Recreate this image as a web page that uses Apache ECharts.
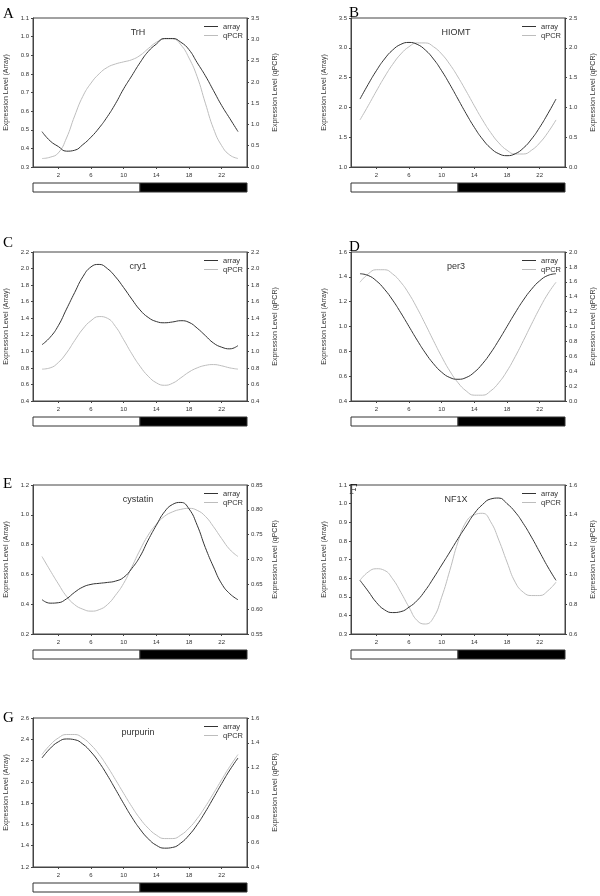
<!DOCTYPE html>
<html><head><meta charset="utf-8">
<script src="https://cdn.jsdelivr.net/npm/echarts@6/dist/echarts.min.js"></script>
<style>html,body{margin:0;padding:0;background:#fff}#c{width:600px;height:896px}</style>
</head><body><div id="c"></div>
<script>
// ---- data ----
const hours = [0,1,2,3,4,5,6,7,8,9,10,11,12,13,14,15,16,17,18,19,20,21,22,23,24];
const xTickLabels = [2,6,10,14,18,22];
const xRange = [-1.1, 25.1];
const lightDark = [[-1.1, 12, 0], [12, 25.1, 1]]; // 0 = light, 1 = dark

const trhArray = [0.49,0.44,0.41,0.385,0.39,0.42,0.46,0.51,0.57,0.64,0.72,0.79,0.86,0.92,0.96,0.99,0.99,0.97,0.93,0.86,0.79,0.71,0.63,0.56,0.49];
const trhQpcr  = [0.20,0.23,0.33,0.68,1.20,1.66,1.97,2.19,2.34,2.42,2.47,2.52,2.62,2.78,2.93,3.01,3.01,2.87,2.56,2.12,1.50,0.90,0.50,0.28,0.20];
const hiomtArray = [2.14,2.386,2.615,2.812,2.963,3.058,3.09,3.058,2.963,2.812,2.615,2.386,2.14,1.894,1.665,1.468,1.317,1.222,1.19,1.222,1.317,1.468,1.665,1.894,2.14];
const hiomtQpcr  = [0.79,1.027,1.273,1.51,1.722,1.896,2.018,2.082,2.082,2.018,1.896,1.722,1.51,1.273,1.027,0.79,0.578,0.404,0.281,0.218,0.218,0.281,0.404,0.578,0.79];
const cry1Array = [1.08,1.17,1.31,1.51,1.71,1.90,2.02,2.05,2.00,1.90,1.77,1.63,1.50,1.41,1.36,1.345,1.355,1.37,1.35,1.28,1.19,1.10,1.05,1.03,1.07];
const cry1Qpcr  = [0.785,0.80,0.865,0.98,1.13,1.27,1.37,1.42,1.40,1.30,1.14,0.97,0.82,0.70,0.62,0.59,0.615,0.68,0.75,0.80,0.83,0.84,0.825,0.80,0.785];
const per3Array = [1.425,1.411,1.368,1.30,1.2125,1.11,1.0,0.89,0.7875,0.70,0.632,0.589,0.575,0.589,0.632,0.70,0.7875,0.89,1.0,1.11,1.2125,1.30,1.368,1.411,1.425];
const per3Qpcr  = [1.594,1.705,1.762,1.762,1.705,1.594,1.438,1.245,1.031,0.809,0.595,0.402,0.246,0.135,0.078,0.078,0.135,0.246,0.402,0.595,0.809,1.031,1.245,1.438,1.594];
const cystatinArray = [0.431,0.407,0.41,0.436,0.48,0.515,0.533,0.54,0.546,0.555,0.58,0.64,0.72,0.83,0.93,1.02,1.07,1.083,1.04,0.93,0.78,0.65,0.537,0.47,0.43];
const cystatinQpcr  = [0.706,0.678,0.651,0.626,0.609,0.600,0.596,0.599,0.609,0.628,0.652,0.685,0.719,0.749,0.771,0.787,0.796,0.801,0.803,0.799,0.787,0.766,0.742,0.720,0.706];
const nf1xArray = [0.588,0.53,0.47,0.43,0.415,0.42,0.444,0.48,0.534,0.60,0.67,0.74,0.812,0.88,0.947,0.995,1.025,1.03,1.0,0.955,0.893,0.82,0.74,0.66,0.588];
const nf1xQpcr  = [0.96,1.016,1.038,1.027,0.97,0.88,0.78,0.69,0.667,0.71,0.847,1.027,1.218,1.353,1.40,1.41,1.353,1.23,1.083,0.948,0.88,0.858,0.858,0.89,0.948];
const purpurinArray = [2.224,2.314,2.376,2.403,2.396,2.355,2.281,2.182,2.062,1.930,1.796,1.668,1.556,1.466,1.404,1.377,1.384,1.425,1.499,1.598,1.718,1.850,1.984,2.112,2.224];
const purpurinQpcr  = [1.306,1.383,1.439,1.467,1.467,1.439,1.383,1.306,1.210,1.103,0.993,0.886,0.790,0.713,0.657,0.629,0.629,0.657,0.713,0.790,0.886,0.993,1.103,1.210,1.306];

// axis ranges: [min, max, interval, decimals]
const trhLeft = [0.3,1.1,0.1,1],  trhRight = [0,3.5,0.5,1];
const hiomtLeft = [1.0,3.5,0.5,1], hiomtRight = [0,2.5,0.5,1];
const cry1Left = [0.4,2.2,0.2,1], cry1Right = [0.4,2.2,0.2,1];
const per3Left = [0.4,1.6,0.2,1], per3Right = [0,2.0,0.2,1];
const cystatinLeft = [0.2,1.2,0.2,1], cystatinRight = [0.55,0.85,0.05,2];
const nf1xLeft = [0.3,1.1,0.1,1], nf1xRight = [0.6,1.6,0.2,1];
const purpurinLeft = [1.2,2.6,0.2,1], purpurinRight = [0.4,1.6,0.2,1];

const panels = [
  {letter:'A', gene:'TrH', arr:trhArray, q:trhQpcr, l:trhLeft, r:trhRight},
  {letter:'B', gene:'HIOMT', arr:hiomtArray, q:hiomtQpcr, l:hiomtLeft, r:hiomtRight},
  {letter:'C', gene:'cry1', arr:cry1Array, q:cry1Qpcr, l:cry1Left, r:cry1Right},
  {letter:'D', gene:'per3', arr:per3Array, q:per3Qpcr, l:per3Left, r:per3Right},
  {letter:'E', gene:'cystatin', arr:cystatinArray, q:cystatinQpcr, l:cystatinLeft, r:cystatinRight},
  {letter:'F', gene:'NF1X', arr:nf1xArray, q:nf1xQpcr, l:nf1xLeft, r:nf1xRight},
  {letter:'G', gene:'purpurin', arr:purpurinArray, q:purpurinQpcr, l:purpurinLeft, r:purpurinRight}
];

// ---- layout ----
const colLeft = [33, 351], plotW = 214;
const rowTop = [18, 252, 485, 718], plotH = 149;
const letterPos = [[3,7],[349,6],[3,236],[349,240],[3,477],[349,483],[3,711]];
const FONT = '"Liberation Sans", Arial, sans-serif';
const AXC = '#444', TXC = '#333';

const option = {animation:false, grid:[], xAxis:[], yAxis:[], series:[], legend:[], graphic:[]};

panels.forEach((p, i) => {
  const col = i % 2, row = Math.floor(i / 2);
  const L = colLeft[col], T = rowTop[row];
  const g = option.grid.length;
  option.grid.push({left:L, top:T, width:plotW, height:plotH, show:true, borderColor:AXC, borderWidth:1, backgroundColor:'transparent'});
  option.grid.push({left:L, top:T+plotH+16, width:plotW, height:9});
  const xi = option.xAxis.length;
  option.xAxis.push({
    gridIndex:g, type:'value', min:xRange[0], max:xRange[1], position:'bottom',
    axisLine:{show:true, onZero:false, lineStyle:{color:AXC, width:1}},
    axisTick:{show:true, customValues:xTickLabels, length:2, lineStyle:{color:AXC}},
    axisLabel:{customValues:xTickLabels, fontSize:6, margin:5, color:TXC, fontFamily:FONT},
    splitLine:{show:false}
  });
  option.xAxis.push({gridIndex:g+1, type:'value', min:xRange[0], max:xRange[1], show:false});
  const yi = option.yAxis.length;
  const mkY = (rng, pos, name, gap) => ({
    gridIndex:g, type:'value', position:pos, min:rng[0], max:rng[1], interval:rng[2],
    axisLine:{show:true, onZero:false, lineStyle:{color:AXC, width:1}},
    axisTick:{show:true, length:2, lineStyle:{color:AXC}},
    axisLabel:{fontSize:6, margin:4, color:TXC, fontFamily:FONT, formatter:v => Number(v).toFixed(rng[3])},
    splitLine:{show:false},
    name:name, nameLocation:'middle', nameGap:gap,
    nameTextStyle:{fontSize:7, color:TXC, fontFamily:FONT}
  });
  option.yAxis.push(mkY(p.l, 'left', 'Expression Level (Array)', 23));
  option.yAxis.push(mkY(p.r, 'right', 'Expression Level (qPCR)', 25));
  option.yAxis.push({gridIndex:g+1, type:'value', min:0, max:1, show:false});

  option.series.push({
    name:'array', type:'line', xAxisIndex:xi, yAxisIndex:yi, smooth:0.5, showSymbol:false,
    data:hours.map((h, k) => [h, p.arr[k]]), lineStyle:{color:'#333', width:1}, itemStyle:{color:'#333'}, z:3
  });
  option.series.push({
    name:'qPCR', type:'line', xAxisIndex:xi, yAxisIndex:yi+1, smooth:0.5, showSymbol:false,
    data:hours.map((h, k) => [h, p.q[k]]), lineStyle:{color:'#bdbdbd', width:1}, itemStyle:{color:'#bdbdbd'}, z:2
  });
  option.series.push({
    type:'custom', xAxisIndex:xi+1, yAxisIndex:yi+2, data:lightDark, silent:true,
    renderItem:(params, api) => {
      const s = api.coord([api.value(0), 0]);
      const e = api.coord([api.value(1), 1]);
      return {type:'rect', shape:{x:s[0], y:e[1], width:e[0]-s[0], height:s[1]-e[1]},
        style:{fill: api.value(2) === 1 ? '#000' : '#fff', stroke:'#333', lineWidth:1}};
    }
  });
  option.legend.push({
    left: L + plotW - 43, top: T + 4.5, orient:'vertical', itemWidth:14, itemHeight:1, itemGap:1,
    data:[{name:'array', icon:'rect'}, {name:'qPCR', icon:'rect'}],
    textStyle:{fontSize:7.5, color:TXC, fontFamily:FONT}, selectedMode:false, padding:0
  });
  option.graphic.push({type:'text', x:L + plotW/2 - 2, y:T + 15,
    style:{text:p.gene, fontSize:9, fill:TXC, fontFamily:FONT, align:'center', verticalAlign:'middle'}});
  option.graphic.push({type:'text', x:letterPos[i][0], y:letterPos[i][1],
    style:{text:p.letter, fontSize:15, fill:'#000', fontFamily:'"Liberation Serif", "Times New Roman", serif', align:'left', verticalAlign:'top'}});
});

const chart = echarts.init(document.getElementById('c'), null, {renderer:'canvas'});
chart.setOption(option);
</script></body></html>
